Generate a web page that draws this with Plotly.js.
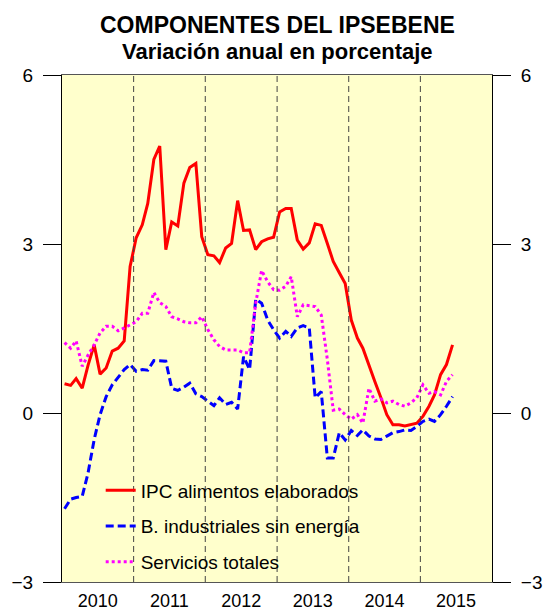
<!DOCTYPE html>
<html>
<head>
<meta charset="utf-8">
<script src="https://cdn.plot.ly/plotly-3.0.1.min.js"></script>
<style>
  body { margin: 0; background: #fff; }
  #plot { width: 544px; height: 614px; }
</style>
</head>
<body>
<div id="plot"></div>
<script>
// monthly series, Jan 2010 - Jun 2015
var firstYear = 2010;
var yearLabels = ["2010", "2011", "2012", "2013", "2014", "2015"];

var alimentos = [
  0.52, 0.49, 0.61, 0.44, 0.85, 1.21, 0.69, 0.80, 1.10, 1.15, 1.28, 2.60,
  3.11, 3.34, 3.72, 4.50, 4.74, 2.90, 3.39, 3.32, 4.08, 4.36, 4.43, 3.13,
  2.81, 2.79, 2.67, 2.93, 3.01, 3.77, 3.24, 3.25, 2.90, 3.04, 3.09, 3.12,
  3.57, 3.63, 3.63, 3.07, 2.91, 3.02, 3.36, 3.33, 3.01, 2.69, 2.49, 2.30,
  1.65, 1.33, 1.15, 0.83, 0.56, 0.27, -0.03, -0.21, -0.21, -0.23, -0.20, -0.18,
  -0.06, 0.12, 0.32, 0.68, 0.86, 1.21
];
var industriales = [
  -1.70, -1.53, -1.50, -1.48, -1.06, -0.47, -0.03, 0.29, 0.50, 0.64, 0.77, 0.86,
  0.74, 0.77, 0.76, 0.93, 0.93, 0.92, 0.44, 0.40, 0.46, 0.53, 0.34, 0.29,
  0.21, 0.13, 0.27, 0.15, 0.19, 0.07, 1.00, 0.77, 2.02, 1.95, 1.65, 1.48,
  1.33, 1.45, 1.36, 1.51, 1.55, 1.51, 0.27, 0.38, -0.80, -0.80, -0.35, -0.48,
  -0.31, -0.40, -0.30, -0.41, -0.46, -0.47, -0.41, -0.35, -0.33, -0.30, -0.31, -0.24,
  -0.15, -0.11, -0.15, -0.03, 0.12, 0.29
];
var servicios = [
  1.25, 1.15, 1.28, 0.83, 1.03, 1.21, 1.42, 1.54, 1.54, 1.46, 1.51, 1.57,
  1.62, 1.77, 1.77, 2.14, 1.96, 1.89, 1.71, 1.67, 1.62, 1.60, 1.60, 1.71,
  1.48, 1.30, 1.18, 1.12, 1.12, 1.12, 1.07, 1.07, 1.95, 2.53, 2.33, 2.19,
  2.18, 2.25, 2.42, 1.71, 1.92, 1.91, 1.89, 1.74, 0.95, 0.05, 0.07, -0.03,
  -0.11, -0.03, -0.18, 0.44, 0.21, 0.25, 0.18, 0.21, 0.15, 0.12, 0.18, 0.27,
  0.50, 0.35, 0.38, 0.32, 0.56, 0.68
];

// dates for each month (mid-month)
var fechas = alimentos.map(function (v, i) {
  var y = firstYear + Math.floor(i / 12);
  var m = (i % 12) + 1;
  return y + "-" + (m < 10 ? "0" + m : m) + "-14";
});

var font = "Liberation Sans, Arial, sans-serif";

var trace1 = {
  x: fechas, y: alimentos,
  name: "IPC alimentos elaborados",
  legendgroup: "a",
  type: "scatter", mode: "lines",
  line: { color: "#ff0000", width: 3 }
};
var trace2 = {
  x: fechas, y: industriales,
  name: "B. industriales sin energía",
  legendgroup: "b",
  type: "scatter", mode: "lines",
  line: { color: "#0000ff", width: 3, dash: "8px,4px" }
};
var trace3 = {
  x: fechas, y: servicios,
  name: "Servicios totales",
  legendgroup: "c",
  type: "scatter", mode: "lines",
  line: { color: "#ff00ff", width: 3, dash: "3px,3px" }
};
// invisible trace only to bring up the right axis
var trace4 = {
  x: [fechas[0]], y: [0], yaxis: "y2",
  showlegend: false, hoverinfo: "skip",
  mode: "markers", marker: { opacity: 0 }
};

// dashed lines at the start of each year
var shapes = yearLabels.slice(1).map(function (yr) {
  return {
    type: "line", xref: "x", yref: "paper",
    x0: yr + "-01-01", x1: yr + "-01-01", y0: 0, y1: 1,
    line: { color: "#444", width: 1, dash: "6px,4px" }
  };
});

var yAxisBase = {
  range: [-3, 6],
  tickvals: [-3, 0, 3, 6],
  ticks: "outside", ticklen: 18, tickcolor: "#000", tickwidth: 1,
  showline: true, linecolor: "#000", linewidth: 1,
  showgrid: false, zeroline: false,
  tickfont: { family: font, size: 19, color: "#000" },
  fixedrange: true
};

var layout = {
  width: 544, height: 614,
  margin: { l: 62, r: 52, t: 75, b: 32 },
  paper_bgcolor: "#ffffff",
  plot_bgcolor: "#ffffcc",
  showlegend: true,
  legend: {
    x: 0.09, y: 0.218, xanchor: "left", yanchor: "top",
    bgcolor: "rgba(0,0,0,0)",
    font: { family: font, size: 19, color: "#000" },
    tracegroupgap: 8
  },
  xaxis: {
    type: "date",
    range: ["2010-01-01", "2016-01-01"],
    tickvals: yearLabels.map(function (yr) { return yr + "-07-02"; }),
    ticktext: yearLabels,
    ticks: "", ticklabelstandoff: 2,
    showline: true, linecolor: "#555", linewidth: 1, mirror: true,
    showgrid: false, zeroline: false,
    tickfont: { family: font, size: 18, color: "#000" }
  },
  yaxis: Object.assign({}, yAxisBase, { side: "left", ticklabelstandoff: 6 }),
  yaxis2: Object.assign({}, yAxisBase, { side: "right", overlaying: "y", ticklabelstandoff: 6 }),
  shapes: shapes,
  annotations: [
    {
      text: "<b>COMPONENTES DEL IPSEBENE</b>",
      xref: "paper", yref: "paper", x: 0.5, y: 1, yshift: 50,
      showarrow: false, xanchor: "center", yanchor: "middle",
      font: { family: font, size: 23, color: "#000" }
    },
    {
      text: "<b>Variación anual en porcentaje</b>",
      xref: "paper", yref: "paper", x: 0.5, y: 1, yshift: 24,
      showarrow: false, xanchor: "center", yanchor: "middle",
      font: { family: font, size: 22, color: "#000" }
    }
  ]
};

Plotly.newPlot("plot", [trace1, trace2, trace3, trace4], layout, { staticPlot: true });
</script>
</body>
</html>
